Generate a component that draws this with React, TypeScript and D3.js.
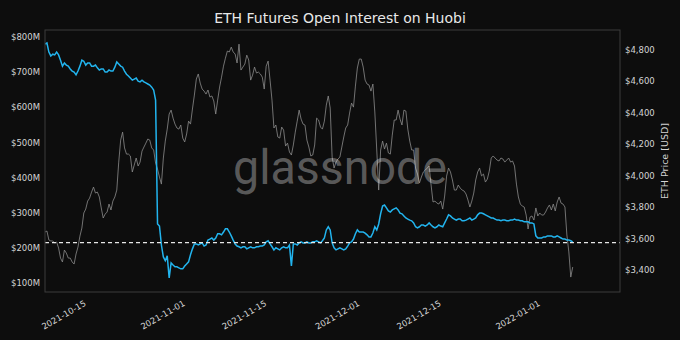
import React, { useEffect } from "react";
import * as d3 from "d3";

// ---- data (8-hour samples starting 2021-10-08 00:00 UTC) ----
const seriesStart = "2021-10-08T00:00:00Z";
const stepHours = 8;

const openInterestM: number[] = [
  781, 784, 758, 747, 752, 750, 758, 750, 735, 718,
  727, 721, 718, 710, 704, 701, 693, 704, 718, 735,
  732, 721, 727, 727, 718, 718, 721, 713, 707, 710,
  710, 701, 701, 707, 704, 704, 715, 730, 724, 718,
  715, 704, 695, 690, 684, 678, 681, 684, 675, 673,
  678, 673, 670, 667, 664, 658, 650, 621, 268, 262,
  208, 174, 163, 177, 114, 157, 151, 146, 146, 143,
  140, 140, 148, 154, 160, 180, 197, 211, 211, 208,
  211, 214, 205, 208, 222, 225, 228, 222, 228, 240,
  240, 237, 245, 254, 254, 245, 234, 222, 211, 205,
  203, 200, 203, 203, 197, 200, 203, 200, 200, 203,
  203, 205, 205, 208, 217, 220, 211, 203, 194, 200,
  197, 194, 200, 203, 200, 200, 208, 148, 211, 211,
  208, 214, 217, 214, 214, 217, 214, 214, 217, 217,
  220, 217, 214, 220, 228, 251, 260, 251, 214, 200,
  194, 197, 200, 197, 194, 197, 205, 214, 217, 225,
  240, 251, 245, 245, 245, 242, 237, 231, 231, 242,
  260, 251, 268, 297, 319, 322, 314, 305, 302, 308,
  311, 314, 308, 299, 297, 291, 285, 282, 279, 277,
  271, 260, 257, 260, 265, 265, 262, 265, 271, 265,
  260, 257, 260, 265, 262, 260, 271, 282, 294, 291,
  285, 282, 279, 282, 282, 277, 277, 279, 282, 285,
  279, 282, 285, 294, 299, 299, 297, 294, 291, 288,
  285, 285, 282, 279, 279, 277, 279, 279, 277, 277,
  279, 279, 282, 279, 279, 277, 277, 274, 274, 274,
  271, 271, 268, 234, 228, 228, 228, 231, 231, 234,
  234, 234, 231, 231, 234, 231, 228, 225, 225, 222,
  222, 220, 217,
];

const ethPrice: number[] = [
  3642, 3648, 3591, 3585, 3585, 3572, 3578, 3540, 3476, 3451,
  3527, 3508, 3476, 3476, 3451, 3438, 3502, 3546, 3616, 3667,
  3763, 3788, 3839, 3858, 3896, 3928, 3890, 3896, 3865, 3795,
  3731, 3756, 3769, 3820, 3782, 3839, 3865, 3909, 4087, 4227,
  4278, 4177, 4138, 4138, 4126, 4024, 4068, 4113, 4062, 4087,
  4157, 4183, 4208, 4234, 4227, 4177, 4164, 4081, 4043, 3992,
  3947, 4113, 4221, 4297, 4393, 4418, 4367, 4329, 4304, 4297,
  4323, 4240, 4215, 4266, 4348, 4329, 4425, 4514, 4616, 4648,
  4590, 4552, 4539, 4520, 4546, 4501, 4508, 4476, 4393, 4482,
  4565, 4628, 4698, 4749, 4794, 4788, 4819, 4788, 4775, 4718,
  4838, 4673, 4692, 4711, 4768, 4737, 4609, 4641, 4692, 4654,
  4660, 4648, 4628, 4552, 4698, 4730, 4609, 4482, 4304, 4323,
  4247, 4240, 4310, 4291, 4189, 4208, 4151, 4132, 4196, 4278,
  4348, 4418, 4361, 4329, 4323, 4227, 4183, 4126, 4132, 4196,
  4367, 4355, 4310, 4297, 4348, 4450, 4508, 4431, 4119, 4049,
  4087, 4107, 4119, 4183, 4247, 4304, 4323, 4399, 4463, 4437,
  4571, 4686, 4743, 4743, 4692, 4609, 4584, 4578, 4539, 4584,
  4406, 4164, 3909, 4164, 4221, 4170, 4208, 4145, 4138, 4259,
  4355, 4355, 4418, 4361, 4323, 4418, 4412, 4297, 4221, 4164,
  4164, 4049, 4011, 3954, 3992, 4024, 4036, 4049, 4062, 3941,
  3833, 3839, 3826, 3820, 3839, 3788, 3871, 3998, 4049, 4024,
  3973, 3909, 3909, 3941, 3922, 3909, 3903, 3884, 3846, 3801,
  3839, 3890, 3973, 4024, 4049, 3999, 4011, 3960, 3979, 4030,
  4113, 4126, 4113, 4100, 4094, 4113, 4107, 4087, 4100, 4113,
  4087, 4094, 4062, 3947, 3865, 3820, 3807, 3801, 3750, 3661,
  3737, 3744, 3718, 3795, 3744, 3763, 3750, 3750, 3769, 3795,
  3814, 3782, 3820, 3776, 3833, 3865, 3826, 3820, 3801, 3623,
  3515, 3355, 3419,
];

const referenceOI = 215;
const xTickDates = ["2021-10-15", "2021-11-01", "2021-11-15", "2021-12-01", "2021-12-15", "2022-01-01"];
const leftTicks = [100, 200, 300, 400, 500, 600, 700, 800];
const rightTicks = [3400, 3600, 3800, 4000, 4200, 4400, 4600, 4800];
const xDomain = ["2021-10-08T00:00:00Z", "2022-01-14T19:00:00Z"];
const leftDomain = [74, 821];
const rightDomain = [3260, 4928];

const W = 680;
const H = 340;
const M = { left: 45, right: 620, top: 30, bottom: 292 };

export default function App() {
  useEffect(() => {
    document.body.style.margin = "0";
    document.body.style.background = "#0d0d0d";
  }, []);

  const t0 = new Date(seriesStart).getTime();
  const dates = openInterestM.map((_, i) => new Date(t0 + i * stepHours * 3600 * 1000));

  const x = d3.scaleUtc().domain(xDomain.map((d) => new Date(d))).range([M.left, M.right]);
  const yL = d3.scaleLinear().domain(leftDomain).range([M.bottom, M.top]);
  const yR = d3.scaleLinear().domain(rightDomain).range([M.bottom, M.top]);

  const lineOI = d3
    .line<number>()
    .x((_, i) => x(dates[i]))
    .y((d) => yL(d));
  const linePrice = d3
    .line<number>()
    .x((_, i) => x(dates[i]))
    .y((d) => yR(d));

  const fmtL = (v: number) => `$${v}M`;
  const fmtR = d3.format("$,");
  const font = "'DejaVu Sans', sans-serif";

  return (
    <svg width={W} height={H} style={{ display: "block", background: "#0d0d0d" }} fontFamily={font}>
      <rect x={0} y={0} width={W} height={H} fill="#0d0d0d" />
      <text x={340} y={23} textAnchor="middle" fill="#e8e8e8" fontSize={14}>
        ETH Futures Open Interest on Huobi
      </text>
      <defs>
        <clipPath id="plotclip">
          <rect x={M.left} y={M.top} width={M.right - M.left} height={M.bottom - M.top} />
        </clipPath>
      </defs>
      <g clipPath="url(#plotclip)">
        <path d={linePrice(ethPrice) || ""} fill="none" stroke="#8c8c8c" strokeWidth={0.8} />
        <path d={lineOI(openInterestM) || ""} fill="none" stroke="#22b4ee" strokeWidth={1.5} />
        <line
          x1={M.left}
          x2={M.right}
          y1={yL(referenceOI)}
          y2={yL(referenceOI)}
          stroke="#e6e6e6"
          strokeWidth={1.2}
          strokeDasharray="4,3"
        />
      </g>
      <text
        x={340}
        y={184}
        textAnchor="middle"
        fill="#ffffff"
        fillOpacity={0.32}
        fontSize={48}
        fontFamily="Roboto, 'Open Sans', sans-serif"
        textLength={214}
        lengthAdjust="spacingAndGlyphs"
      >
        glassnode
      </text>
      <rect
        x={M.left}
        y={M.top}
        width={M.right - M.left}
        height={M.bottom - M.top}
        fill="none"
        stroke="#3c3c3c"
        strokeWidth={1}
      />
      {leftTicks.map((v) => (
        <text key={"l" + v} x={40} y={yL(v)} dy="0.35em" textAnchor="end" fill="#d4d4d4" fontSize={8.5}>
          {fmtL(v)}
        </text>
      ))}
      {rightTicks.map((v) => (
        <text key={"r" + v} x={625} y={yR(v)} dy="0.35em" textAnchor="start" fill="#d4d4d4" fontSize={8.5}>
          {fmtR(v)}
        </text>
      ))}
      <text
        transform={`translate(665, ${(M.top + M.bottom) / 2}) rotate(-90)`}
        textAnchor="middle"
        dy="0.35em"
        fill="#d4d4d4"
        fontSize={9.5}
      >
        ETH Price [USD]
      </text>
      {xTickDates.map((d) => {
        const px = x(new Date(d + "T00:00:00Z"));
        return (
          <text
            key={d}
            transform={`translate(${px - 2}, ${M.bottom + 8}) rotate(-30)`}
            textAnchor="end"
            dy="0.7em"
            fill="#d4d4d4"
            fontSize={8.5}
          >
            {d}
          </text>
        );
      })}
    </svg>
  );
}
